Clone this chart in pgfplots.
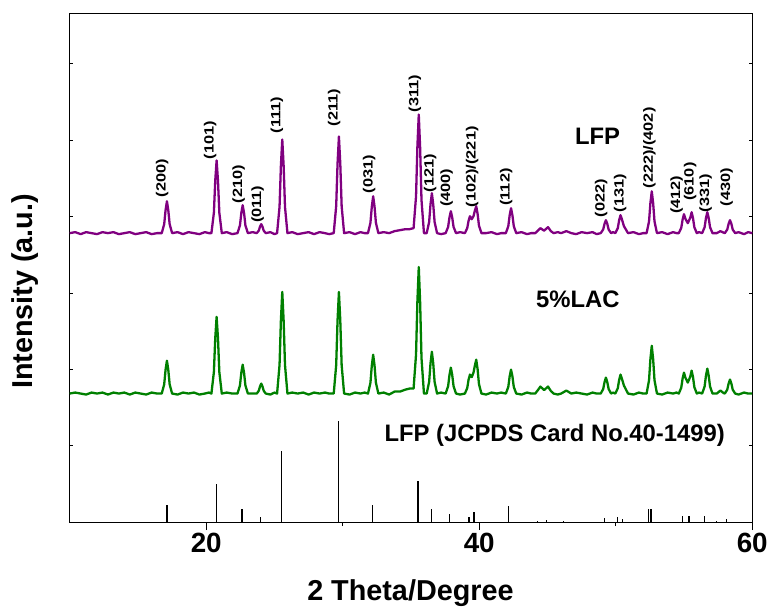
\documentclass[border=0pt]{standalone}
\usepackage{fontspec}
\setmainfont{Liberation Sans}
\usepackage{pgfplots}
\usepackage{pgfplotstable}
\pgfplotsset{compat=1.18}
\definecolor{lfpc}{RGB}{128,0,128}
\definecolor{lacc}{RGB}{0,128,0}

\pgfplotstableread{
x lfp lac
10 0 0
10.4 1 1
10.8 -1 0
11.2 1 -1
11.6 0 1
12.0 -1 0
12.4 1 1
12.8 0 -1
13.2 1 1
13.6 -1 0
14.0 0 1
14.4 1 -1
14.8 -1 1
15.2 0 0
15.6 1 -1
16.0 -1 1
16.4 0 0
16.74 0 0
16.92 9 9.2
17.02 23 23.8
17.12 32 33
17.22 23 23.8
17.32 9 9.2
17.50 0 0
17.9 1 -1
18.3 -1 1
18.7 1 0
19.1 0 1
19.5 -1 -1
19.9 1 0
20.2 0 1
20.38 0 0
20.56 20.4 21.6
20.66 52.6 55.4
20.76 73 77
20.86 52.6 55.4
20.96 20.4 21.6
21.14 0 0
21.5 1 1
21.9 -1 0
22.29 0 0
22.47 7.8 8.1
22.57 20.2 20.9
22.67 28 29
22.77 20.2 20.9
22.87 7.8 8.1
23.05 0 0
23.4 1 0
23.70 0 0
23.85 2.5 2.8
23.94 6.5 7.2
24.03 9 10
24.12 6.5 7.2
24.21 2.5 2.8
24.36 0 0
24.7 1 -1
25.0 -1 1
25.19 0 0
25.37 26.3 28.6
25.47 67.7 73.4
25.57 94 102
25.67 67.7 73.4
25.77 26.3 28.6
25.95 0 0
26.3 1 1
26.7 -1 0
27.1 0 1
27.5 1 -1
27.9 -1 1
28.3 1 0
28.7 0 1
29.0 -1 0
29.34 0 0
29.52 27.2 28.6
29.62 69.8 73.4
29.72 97 102
29.82 69.8 73.4
29.92 27.2 28.6
30.10 0 0
30.5 1 -1
30.9 -1 1
31.3 1 0
31.6 0 1
31.85 0 0
32.03 10.4 10.9
32.13 26.6 28.1
32.23 37 39
32.33 26.6 28.1
32.43 10.4 10.9
32.61 0 0
33.0 1 1
33.4 0 -1
33.8 2 2
34.2 3 2
34.6 4 4
34.9 4 5
35.19 5 5
35.37 37 39.2
35.47 87.1 92.8
35.57 119 127
35.67 85.7 91.4
35.77 33.3 35.6
35.95 0 0
36.15 0 0
36.33 11.2 11.8
36.43 28.8 30.2
36.53 40 42
36.63 28.8 30.2
36.73 11.2 11.8
36.91 0 0
37.2 -1 1
37.54 0 0
37.72 6.2 7.3
37.82 15.8 18.7
37.92 22 26
38.02 15.8 18.7
38.12 6.2 7.3
38.30 0 0
38.6 1 -1
38.95 0 0
39.12 5 5.5
39.22 12.5 14
39.32 17 19
39.45 14 16.5
39.58 17 21
39.68 22.5 28
39.78 27 34
39.88 19.4 24.5
39.98 7.6 9.5
40.16 0 0
40.5 0 -1
40.9 1 1
41.3 -1 0
41.6 0 1
41.95 0 0
42.13 7 6.7
42.23 18 17.3
42.33 25 24
42.43 18 17.3
42.53 7 6.7
42.71 0 0
43.1 1 -1
43.5 -1 1
43.8 0 0
44.10 0 0
44.30 2.5 3.5
44.48 5 7
44.75 2.5 3.5
45.04 6 7
45.25 2 2.5
45.45 0 0
45.75 1 -1
46.0 0 0
46.38 2 3
46.75 0 0
47.1 -1 1
47.5 1 0
47.9 0 -1
48.3 1 1
48.6 -1 0
48.90 0 0
49.08 3.6 4.5
49.18 9.4 11.5
49.28 13 16
49.38 9.4 11.5
49.48 3.6 4.5
49.66 0 0
49.8 1 1
49.97 0 0
50.15 5 5.3
50.25 13 13.7
50.35 18 19
50.45 14 15
50.6 7 8
50.9 0 0
51.3 1 -1
51.7 -1 1
52.0 0 0
52.26 0 0
52.44 11.8 13.4
52.54 30.2 34.6
52.64 42 48
52.74 30.2 34.6
52.84 11.8 13.4
53.02 0 0
53.4 1 -1
53.8 -1 1
54.2 1 0
54.45 0 1
54.62 0 0
54.80 5.3 5.9
54.90 13.7 15.1
55.0 19 21
55.10 14.5 16
55.28 10 11
55.46 15.5 17
55.56 21 23
55.66 15.1 16.6
55.76 5.9 6.4
55.94 0 0
56.1 1 1
56.33 0 0
56.51 5.9 7
56.61 15.1 18
56.71 21 25
56.81 15.1 18
56.91 5.9 7
57.09 0 0
57.40 0 0
57.67 2 3
57.90 0.5 0.5
57.99 0 0
58.17 3.6 3.9
58.27 9.4 10.1
58.37 13 14
58.47 9.4 10.1
58.57 3.6 3.9
58.75 0 0
59.0 1 -1
59.4 -1 1
59.7 1 0
60 0 0
}\xrd

\pgfplotstableread{
x h
17.11 17.3
20.75 38.7
22.62 13
23.99 5.3
25.52 71.3
29.69 101.7
32.17 17.3
35.51 41.3
36.49 13
37.83 8
39.24 5
39.61 9.7
42.14 16.3
44.28 1.5
44.92 2
46.18 1
49.18 4
50.13 5
50.50 3
52.40 13
52.57 13
54.88 6
55.37 6
56.49 6
57.40 1
58.12 3
}\sticks

\newcommand{\hkl}[3]{\node[rotate=90, xscale=1.22, transform shape, anchor=west, inner sep=0pt, font=\bfseries\fontsize{13.5}{14}\selectfont] at (axis cs:#1,#2) {#3};}

\begin{document}
\begin{tikzpicture}
\begin{axis}[
  name=ax,
  scale only axis,
  width=685bp, height=510bp,
  xmin=10, xmax=60, ymin=0, ymax=510,
  clip=false,
  axis line style={line width=1bp},
  xtick={20,40,60},
  minor xtick={30,50},
  xtick pos=bottom,
  tick align=outside,
  ytick=\empty,
  major tick length=8bp,
  minor tick length=4bp,
  tick style={line width=1bp, black},
  /pgf/number format/assume math mode=true,
  xticklabel style={font=\bfseries\fontsize{28}{30}\selectfont},
]
\path (axis cs:4.891,-83) rectangle (axis cs:61.168,524);

\addplot[ycomb, black, line width=1.5bp, mark=none] table[x=x, y=h] {\sticks};
\addplot[lacc, line width=2.3bp, mark=none, line join=round] table[x=x, y expr=\thisrow{lac}+129] {\xrd};
\addplot[lfpc, line width=2.3bp, mark=none, line join=round] table[x=x, y expr=\thisrow{lfp}+290] {\xrd};

\hkl{16.78}{326}{(200)}
\hkl{20.28}{364}{(101)}
\hkl{22.38}{320}{(210)}
\hkl{23.77}{300}{(011)}
\hkl{25.18}{390}{(111)}
\hkl{29.37}{397}{(211)}
\hkl{31.93}{330}{(031)}
\hkl{35.29}{411}{(311)}
\hkl{36.40}{331}{(121)}
\hkl{37.62}{316}{(400)}
\hkl{39.48}{315.7}{(102)/(221)}
\hkl{41.97}{317.3}{(112)}
\hkl{48.94}{305.7}{(022)}
\hkl{50.33}{310.7}{(131)}
\hkl{52.47}{334.7}{(222)/(402)}
\hkl{54.47}{309}{(412)}
\hkl{55.45}{322.3}{(610)}
\hkl{56.59}{310.7}{(331)}
\hkl{58.12}{316.7}{(430)}

\node[font=\bfseries\fontsize{24}{26}\selectfont] at (axis cs:48.67,387.3) {LFP};
\node[font=\bfseries\fontsize{24}{26}\selectfont] at (axis cs:47.23,223.3) {5\%LAC};
\node[font=\bfseries\fontsize{24}{26}\selectfont] at (axis cs:45.53,87.3) {LFP (JCPDS Card No.40-1499)};

\node[font=\bfseries\fontsize{29}{31}\selectfont] at (axis cs:34.96,-71) {2 Theta/Degree};
\node[rotate=90, font=\bfseries\fontsize{29}{31}\selectfont] at (axis cs:6.72,231.5) {Intensity (a.u.)};
\end{axis}
\begin{axis}[
  at={(ax.south west)}, anchor=south west,
  scale only axis,
  width=685bp, height=510bp,
  xmin=10, xmax=60, ymin=0, ymax=510,
  axis line style={draw=none},
  xtick=\empty,
  ytick={76.7,153.3,230,306.7,383.3,460},
  yticklabels={},
  tick align=inside,
  major tick length=3bp,
  tick style={line width=0.8bp, black},
]
\end{axis}
\end{tikzpicture}
\end{document}
